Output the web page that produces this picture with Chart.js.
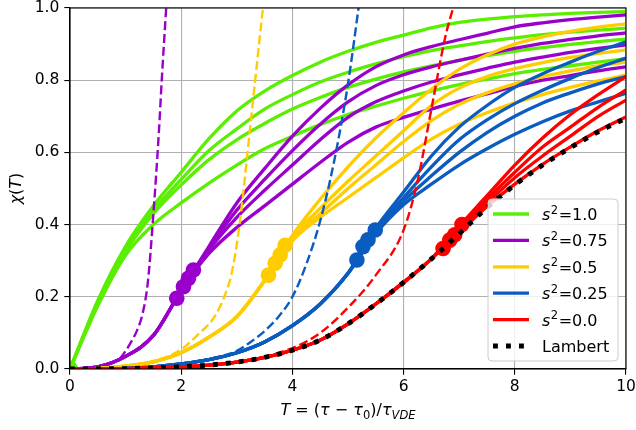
<!DOCTYPE html>
<html>
<head>
<meta charset="utf-8">
<script src="https://cdn.jsdelivr.net/npm/chart.js@4.4.0/dist/chart.umd.min.js"></script>
<style>
  html, body { margin: 0; padding: 0; background: #fff; }
</style>
</head>
<body>
<canvas id="myChart" width="636" height="430"></canvas>
<script>
// shared x grid for the solid curves
const xGrid = [0, 0.5, 1, 1.5, 2, 2.5, 3, 3.5, 4, 4.5, 5, 5.5, 6, 6.5, 7, 7.5, 8, 8.5, 9, 9.5, 10];

// s^2 = 1.0
const green1 = [0, 0.19, 0.34, 0.452, 0.545, 0.638, 0.715, 0.77, 0.813, 0.85, 0.88, 0.905, 0.925, 0.945, 0.96, 0.969, 0.976, 0.981, 0.985, 0.988, 0.99];
const green2 = [0, 0.185, 0.33, 0.44, 0.525, 0.605, 0.665, 0.72, 0.76, 0.795, 0.822, 0.845, 0.865, 0.882, 0.895, 0.907, 0.917, 0.926, 0.933, 0.939, 0.944];
const green3 = [0, 0.18, 0.325, 0.43, 0.51, 0.58, 0.635, 0.68, 0.72, 0.752, 0.78, 0.803, 0.823, 0.84, 0.855, 0.868, 0.88, 0.89, 0.899, 0.907, 0.914];
const green4 = [0, 0.175, 0.315, 0.40, 0.46, 0.515, 0.565, 0.61, 0.645, 0.677, 0.705, 0.728, 0.75, 0.77, 0.788, 0.803, 0.818, 0.83, 0.84, 0.85, 0.86];

// s^2 = 0.75
const purple1 = [0, 0.006, 0.035, 0.093, 0.218, 0.34, 0.46, 0.555, 0.645, 0.722, 0.787, 0.837, 0.87, 0.893, 0.912, 0.93, 0.948, 0.959, 0.968, 0.975, 0.981];
const purple2 = [0, 0.006, 0.035, 0.093, 0.218, 0.335, 0.44, 0.525, 0.605, 0.678, 0.74, 0.785, 0.815, 0.837, 0.855, 0.872, 0.888, 0.902, 0.913, 0.923, 0.931];
const purple3 = [0, 0.006, 0.035, 0.093, 0.218, 0.33, 0.42, 0.495, 0.565, 0.635, 0.697, 0.74, 0.77, 0.795, 0.815, 0.833, 0.85, 0.864, 0.877, 0.888, 0.898];
const purple4 = [0, 0.006, 0.035, 0.093, 0.218, 0.32, 0.392, 0.452, 0.512, 0.572, 0.628, 0.67, 0.697, 0.72, 0.742, 0.762, 0.783, 0.80, 0.813, 0.826, 0.837];

// s^2 = 0.5
const yellow1 = [0, 0.002, 0.008, 0.02, 0.045, 0.088, 0.145, 0.245, 0.37, 0.47, 0.56, 0.64, 0.71, 0.775, 0.83, 0.87, 0.90, 0.92, 0.935, 0.947, 0.956];
const yellow2 = [0, 0.002, 0.008, 0.02, 0.045, 0.088, 0.145, 0.245, 0.365, 0.445, 0.52, 0.59, 0.66, 0.73, 0.778, 0.81, 0.832, 0.849, 0.863, 0.874, 0.884];
const yellow3 = [0, 0.002, 0.008, 0.02, 0.045, 0.088, 0.145, 0.245, 0.36, 0.43, 0.50, 0.565, 0.63, 0.688, 0.733, 0.765, 0.79, 0.81, 0.826, 0.84, 0.85];
const yellow4 = [0, 0.002, 0.008, 0.02, 0.045, 0.088, 0.145, 0.245, 0.355, 0.42, 0.475, 0.53, 0.585, 0.637, 0.678, 0.71, 0.737, 0.76, 0.78, 0.798, 0.814];

// s^2 = 0.25
const blue1 = [0, 0.0005, 0.002, 0.006, 0.014, 0.026, 0.045, 0.075, 0.12, 0.18, 0.265, 0.39, 0.49, 0.59, 0.67, 0.73, 0.78, 0.818, 0.85, 0.88, 0.906];
const blue2 = [0, 0.0005, 0.002, 0.006, 0.014, 0.026, 0.045, 0.075, 0.12, 0.18, 0.265, 0.385, 0.475, 0.56, 0.635, 0.69, 0.735, 0.772, 0.805, 0.835, 0.861];
const blue3 = [0, 0.0005, 0.002, 0.006, 0.014, 0.026, 0.045, 0.075, 0.12, 0.18, 0.265, 0.38, 0.465, 0.535, 0.60, 0.655, 0.70, 0.737, 0.765, 0.79, 0.81];
const blue4 = [0, 0.0005, 0.002, 0.006, 0.014, 0.026, 0.045, 0.075, 0.12, 0.18, 0.265, 0.375, 0.455, 0.512, 0.565, 0.61, 0.65, 0.685, 0.715, 0.74, 0.764];

// s^2 = 0.0
const red1 = [0, 0.0005, 0.001, 0.003, 0.006, 0.011, 0.019, 0.032, 0.052, 0.08, 0.125, 0.18, 0.24, 0.305, 0.395, 0.48, 0.565, 0.64, 0.705, 0.76, 0.81];
const red2 = [0, 0.0005, 0.001, 0.003, 0.006, 0.011, 0.019, 0.032, 0.052, 0.08, 0.125, 0.18, 0.24, 0.305, 0.39, 0.47, 0.545, 0.615, 0.67, 0.725, 0.773];
const red3 = [0, 0.0005, 0.001, 0.003, 0.006, 0.011, 0.019, 0.032, 0.052, 0.08, 0.125, 0.18, 0.24, 0.305, 0.385, 0.46, 0.53, 0.59, 0.645, 0.70, 0.745];
const red4 = [0, 0.0005, 0.001, 0.003, 0.006, 0.011, 0.019, 0.032, 0.052, 0.08, 0.125, 0.18, 0.24, 0.305, 0.378, 0.45, 0.512, 0.567, 0.615, 0.66, 0.698];

const lambert = [0, 0.0005, 0.001, 0.003, 0.006, 0.011, 0.019, 0.032, 0.052, 0.08, 0.125, 0.18, 0.24, 0.305, 0.375, 0.447, 0.51, 0.565, 0.613, 0.657, 0.695];

// dashed curves
const purpleDashX = [0, 0.5, 0.9, 1.0, 1.1, 1.2, 1.3, 1.4, 1.5, 1.6, 1.65, 1.73];
const purpleDashY = [0, 0.006, 0.03, 0.05, 0.075, 0.105, 0.15, 0.24, 0.43, 0.66, 0.80, 1.0];
const yellowDashX = [0, 1, 1.5, 2.0, 2.3, 2.6, 2.8, 2.9, 3.0, 3.1, 3.2, 3.3, 3.4, 3.47];
const yellowDashY = [0, 0.008, 0.022, 0.054, 0.095, 0.145, 0.21, 0.26, 0.345, 0.465, 0.61, 0.755, 0.90, 1.0];
const blueDashX = [0, 1, 2, 2.5, 3.0, 3.25, 3.5, 3.75, 4.0, 4.25, 4.5, 4.75, 5.0, 5.19];
const blueDashY = [0, 0.002, 0.014, 0.028, 0.05, 0.075, 0.105, 0.145, 0.20, 0.29, 0.41, 0.575, 0.79, 1.0];
const redDashX = [0, 2, 3, 4, 4.5, 5, 5.5, 6, 6.25, 6.5, 6.75, 6.89];
const redDashY = [0, 0.006, 0.019, 0.058, 0.10, 0.17, 0.26, 0.385, 0.52, 0.72, 0.92, 1.0];

// circle markers
const greenMarkX = [0, 0, 0, 0];
const greenMarkY = [0, 0, 0, 0];
const purpleMarkX = [1.92, 2.04, 2.13, 2.22];
const purpleMarkY = [0.196, 0.228, 0.251, 0.274];
const yellowMarkX = [3.57, 3.69, 3.78, 3.87];
const yellowMarkY = [0.26, 0.293, 0.316, 0.343];
const blueMarkX = [5.16, 5.27, 5.36, 5.49];
const blueMarkY = [0.302, 0.339, 0.358, 0.385];
const redMarkX = [6.71, 6.83, 6.92, 7.05];
const redMarkY = [0.334, 0.357, 0.372, 0.40];

const xTicks = [0, 2, 4, 6, 8, 10];
const yTicks = [0.0, 0.2, 0.4, 0.6, 0.8, 1.0];
const legendLabels = ['1.0', '0.75', '0.5', '0.25', '0.0', 'Lambert'];

const cGreen = '#5aee00';
const cPurple = '#9a00cc';
const cYellow = '#ffcc00';
const cBlue = '#0a5cc0';
const cRed = '#ff0000';

const groups = [
  {color: cGreen, curves: [green1, green2, green3, green4], dash: null, mx: greenMarkX, my: greenMarkY},
  {color: cPurple, curves: [purple1, purple2, purple3, purple4], dash: [purpleDashX, purpleDashY], mx: purpleMarkX, my: purpleMarkY},
  {color: cYellow, curves: [yellow1, yellow2, yellow3, yellow4], dash: [yellowDashX, yellowDashY], mx: yellowMarkX, my: yellowMarkY},
  {color: cBlue, curves: [blue1, blue2, blue3, blue4], dash: [blueDashX, blueDashY], mx: blueMarkX, my: blueMarkY},
  {color: cRed, curves: [red1, red2, red3, red4], dash: [redDashX, redDashY], mx: redMarkX, my: redMarkY}
];

function pts(xs, ys) {
  return xs.map((x, i) => ({x: x, y: ys[i]}));
}

// build in drawing order (first = bottom)
let drawList = [];
groups.forEach(g => {
  g.curves.forEach(c => {
    drawList.push({
      data: pts(xGrid, c), borderColor: g.color, borderWidth: 3.3,
      pointRadius: 0, cubicInterpolationMode: 'monotone', fill: false
    });
  });
  if (g.dash) {
    drawList.push({
      data: pts(g.dash[0], g.dash[1]), borderColor: g.color, borderWidth: 2.4,
      borderDash: [9, 3.9], pointRadius: 0, cubicInterpolationMode: 'monotone', fill: false
    });
  }
  drawList.push({
    data: pts(g.mx, g.my), showLine: false, pointRadius: 7.8,
    pointBackgroundColor: g.color, pointBorderWidth: 0, pointHoverRadius: 0
  });
});
drawList.push({
  data: pts(xGrid, lambert), borderColor: '#000', borderWidth: 4.9,
  borderDash: [4.9, 8.1], borderCapStyle: 'butt', pointRadius: 0,
  cubicInterpolationMode: 'monotone', fill: false
});
// higher order is drawn first in Chart.js
drawList.forEach((d, i) => { d.order = drawList.length - i; });

const FONT = 'DejaVu Sans';

// matplotlib-like frame, legend and axis labels
const mplDecor = {
  id: 'mplDecor',
  afterDatasetsDraw(chart) {
    const ctx = chart.ctx;
    const a = chart.chartArea;
    ctx.save();
    ctx.strokeStyle = '#000';
    ctx.lineWidth = 1.1;
    ctx.strokeRect(a.left, a.top, a.right - a.left, a.bottom - a.top);

    // legend box
    const bw = 130, bh = 162;
    const bx = a.right - 138, by = a.bottom - 170;
    ctx.beginPath();
    ctx.roundRect(bx, by, bw, bh, 4);
    ctx.fillStyle = 'rgba(255,255,255,0.8)';
    ctx.fill();
    ctx.strokeStyle = '#cccccc';
    ctx.lineWidth = 1;
    ctx.stroke();

    const colors = [cGreen, cPurple, cYellow, cBlue, cRed, '#000'];
    legendLabels.forEach((lab, i) => {
      const yy = by + 15 + i * 26.4;
      ctx.beginPath();
      ctx.moveTo(bx + 5, yy);
      ctx.lineTo(bx + 41, yy);
      ctx.strokeStyle = colors[i];
      if (i === 5) {
        ctx.lineWidth = 4.9;
        ctx.setLineDash([4.9, 8.1]);
      } else {
        ctx.lineWidth = 3.3;
        ctx.setLineDash([]);
      }
      ctx.stroke();
      ctx.setLineDash([]);
      ctx.fillStyle = '#000';
      ctx.textBaseline = 'alphabetic';
      ctx.textAlign = 'left';
      let tx = bx + 54;
      const base = yy + 6;
      if (i === 5) {
        ctx.font = '16px ' + FONT;
        ctx.fillText(lab, tx, base);
      } else {
        ctx.font = 'italic 16px ' + FONT;
        ctx.fillText('s', tx, base);
        tx += ctx.measureText('s').width + 0.5;
        ctx.font = '11.5px ' + FONT;
        ctx.fillText('2', tx, base - 6.5);
        tx += ctx.measureText('2').width + 0.5;
        ctx.font = '16px ' + FONT;
        ctx.fillText('=' + lab, tx, base);
      }
    });
    ctx.restore();
  },
  afterDraw(chart) {
    const ctx = chart.ctx;
    const a = chart.chartArea;
    ctx.save();
    ctx.fillStyle = '#000';
    ctx.textBaseline = 'alphabetic';
    ctx.textAlign = 'left';
    // x label: T = (tau - tau_0)/tau_VDE
    const parts = [
      ['T', 'italic 16px', 0],
      [' = (', '16px', 0],
      ['τ', 'italic 16px', 0],
      [' − ', '16px', 0],
      ['τ', 'italic 16px', 0],
      ['0', '11.5px', 3.5],
      [')/', '16px', 0],
      ['τ', 'italic 16px', 0],
      ['VDE', 'italic 11.5px', 3.5]
    ];
    let total = 0;
    parts.forEach(p => { ctx.font = p[1] + ' ' + FONT; total += ctx.measureText(p[0]).width; });
    let x = (a.left + a.right) / 2 - total / 2;
    const base = 415;
    parts.forEach(p => {
      ctx.font = p[1] + ' ' + FONT;
      ctx.fillText(p[0], x, base + p[2]);
      x += ctx.measureText(p[0]).width;
    });
    // y label: chi(T)
    ctx.translate(21, (a.top + a.bottom) / 2);
    ctx.rotate(-Math.PI / 2);
    const yp = [['χ', 'italic 16px'], ['(', '16px'], ['T', 'italic 16px'], [')', '16px']];
    let yt = 0;
    yp.forEach(p => { ctx.font = p[1] + ' ' + FONT; yt += ctx.measureText(p[0]).width; });
    let yx = -yt / 2;
    yp.forEach(p => {
      ctx.font = p[1] + ' ' + FONT;
      ctx.fillText(p[0], yx, 0);
      yx += ctx.measureText(p[0]).width;
    });
    ctx.restore();
  }
};

const ctx = document.getElementById('myChart').getContext('2d');
const myChart = new Chart(ctx, {
  type: 'line',
  data: { datasets: drawList },
  options: {
    responsive: false,
    animation: false,
    events: [],
    layout: { padding: { top: 8, right: 10, left: 0, bottom: 0 } },
    plugins: { legend: { display: false }, tooltip: { enabled: false } },
    scales: {
      x: {
        type: 'linear', min: 0, max: 10,
        afterBuildTicks: s => { s.ticks = xTicks.map(v => ({value: v})); },
        afterFit: s => { s.height = 61; s.paddingLeft = 0; s.paddingRight = 0; },
        ticks: { color: '#000', font: { family: FONT, size: 15.5 }, padding: 3, maxRotation: 0,
                 callback: v => String(v) },
        grid: { color: '#b0b0b0', lineWidth: 1.1, tickColor: '#000', tickLength: 5.7, tickWidth: 1.1 },
        border: { color: '#000', width: 1.1 }
      },
      y: {
        type: 'linear', min: 0, max: 1,
        afterBuildTicks: s => { s.ticks = yTicks.map(v => ({value: v})); },
        afterFit: s => { s.width = 70; s.paddingTop = 0; s.paddingBottom = 0; },
        ticks: { color: '#000', font: { family: FONT, size: 15.5 }, padding: 5,
                 callback: v => v.toFixed(1) },
        grid: { color: '#b0b0b0', lineWidth: 1.1, tickColor: '#000', tickLength: 5.7, tickWidth: 1.1 },
        border: { color: '#000', width: 1.1 }
      }
    }
  },
  plugins: [mplDecor]
});
</script>
</body>
</html>
